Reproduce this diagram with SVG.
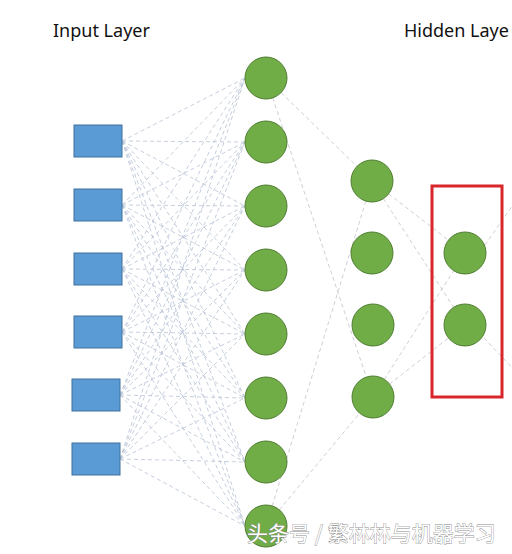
<svg xmlns="http://www.w3.org/2000/svg" width="512" height="554" viewBox="0 0 512 554">
<style>
.lbl{font-family:"Noto Sans","Open Sans","DejaVu Sans",sans-serif;font-size:18px;fill:#111}
.in{fill:#5b9bd5;stroke:#41719c;stroke-width:1}
.hn{fill:#70ad47;stroke:#507e32;stroke-width:1}
.ln{fill:none;stroke:#b6c2d4;stroke-width:0.8;stroke-dasharray:4 3}
.ln2{fill:none;stroke:#c4c0ca;stroke-width:0.8;stroke-dasharray:4 3}
.box{fill:none;stroke:#d9262b;stroke-width:3}
.wm{font-family:"Noto Sans CJK SC","Noto Sans",sans-serif;font-size:21px;fill:#ffffff;stroke:#8c8c8c;stroke-width:0.8;paint-order:stroke}
</style>
<rect width="512" height="554" fill="#ffffff"/>
<text class="lbl" x="53" y="37">Input Layer</text>
<text class="lbl" x="404" y="37">Hidden Laye</text>
<g id="connectors">
<path class="ln" d="M122 141L245 78M122 141L245 142M122 141L245 206M122 141L245 270M122 141L245 334M122 141L245 398M122 141L245 462M122 141L245 526"/>
<path class="ln" d="M122 205L245 78M122 205L245 142M122 205L245 206M122 205L245 270M122 205L245 334M122 205L245 398M122 205L245 462M122 205L245 526"/>
<path class="ln" d="M122 269L245 78M122 269L245 142M122 269L245 206M122 269L245 270M122 269L245 334M122 269L245 398M122 269L245 462M122 269L245 526"/>
<path class="ln" d="M122 332L245 78M122 332L245 142M122 332L245 206M122 332L245 270M122 332L245 334M122 332L245 398M122 332L245 462M122 332L245 526"/>
<path class="ln" d="M120 395L245 78M120 395L245 142M120 395L245 206M120 395L245 270M120 395L245 334M120 395L245 398M120 395L245 462M120 395L245 526"/>
<path class="ln" d="M120 459L245 78M120 459L245 142M120 459L245 206M120 459L245 270M120 459L245 334M120 459L245 398M120 459L245 462M120 459L245 526"/>
<path class="ln2" d="M266 78L372 181M266 78L373 397M266 526L372 181M266 526L373 397"/>
<path class="ln2" d="M372 181L465 253M372 181L465 325M373 397L465 253M373 397L465 325"/>
<path class="ln2" d="M485 245L522 192M484 338L522 378"/>
</g>
<g id="input1"><rect class="in" x="74" y="125" width="48" height="32"/></g>
<g id="input2"><rect class="in" x="74" y="189" width="48" height="32"/></g>
<g id="input3"><rect class="in" x="74" y="253" width="48" height="32"/></g>
<g id="input4"><rect class="in" x="74" y="316" width="48" height="32"/></g>
<g id="input5"><rect class="in" x="72" y="379" width="48" height="32"/></g>
<g id="input6"><rect class="in" x="72" y="443" width="48" height="32"/></g>
<g id="h1n1"><circle class="hn" cx="266" cy="78" r="21"/></g>
<g id="h1n2"><circle class="hn" cx="266" cy="142" r="21"/></g>
<g id="h1n3"><circle class="hn" cx="266" cy="206" r="21"/></g>
<g id="h1n4"><circle class="hn" cx="266" cy="270" r="21"/></g>
<g id="h1n5"><circle class="hn" cx="266" cy="334" r="21"/></g>
<g id="h1n6"><circle class="hn" cx="266" cy="398" r="21"/></g>
<g id="h1n7"><circle class="hn" cx="266" cy="462" r="21"/></g>
<g id="h1n8"><circle class="hn" cx="266" cy="526" r="21"/></g>
<g id="h2n1"><circle class="hn" cx="372" cy="181" r="21"/></g>
<g id="h2n2"><circle class="hn" cx="372" cy="253" r="21"/></g>
<g id="h2n3"><circle class="hn" cx="373" cy="325" r="21"/></g>
<g id="h2n4"><circle class="hn" cx="373" cy="397" r="21"/></g>
<g id="h3n1"><circle class="hn" cx="465" cy="253" r="21"/></g>
<g id="h3n2"><circle class="hn" cx="465" cy="325" r="21"/></g>
<g id="highlight"><rect class="box" x="432" y="186" width="70" height="211"/></g>
<text class="wm" x="247" y="541">头条号 / 繁林林与机器学习</text>
</svg>
